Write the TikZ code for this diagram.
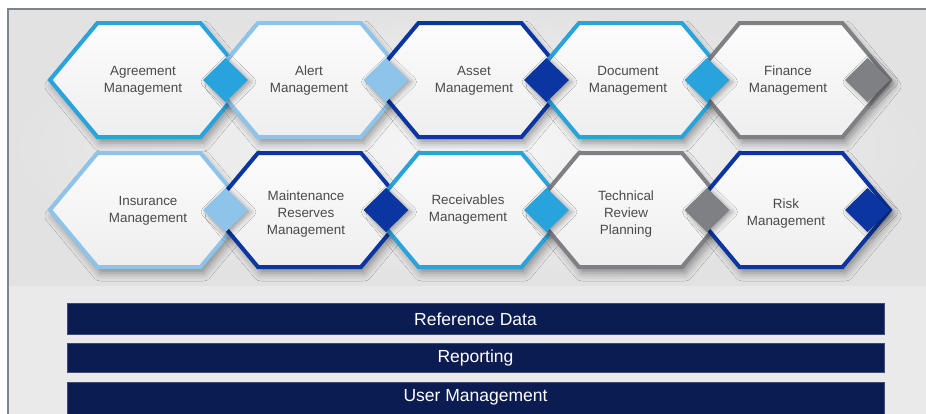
\documentclass[tikz,border=0pt]{standalone}
\usepackage{fontspec}
\setmainfont{Liberation Sans}
\usetikzlibrary{shadows.blur}
\definecolor{cyanB}{HTML}{29A3DC}
\definecolor{lightB}{HTML}{8EC3EA}
\definecolor{darkB}{HTML}{0B35A0}
\definecolor{grayB}{HTML}{7F8084}
\definecolor{navyB}{HTML}{0B1C52}
\definecolor{navyEdge}{HTML}{3B4C78}
\definecolor{frameC}{HTML}{7D848C}
\definecolor{txtC}{HTML}{4A4A4A}
\definecolor{bgLow}{HTML}{EAEAEA}
\definecolor{bgIn}{HTML}{F7F7F7}
\definecolor{bgOut}{HTML}{E2E2E2}
\definecolor{hexTop}{HTML}{FCFCFC}
\definecolor{hexBot}{HTML}{EEEEEE}

\tikzset{
  hexshape/.style={line width=4pt, line join=miter, draw=#1,
    top color=hexTop, bottom color=hexBot,
    blur shadow={shadow xshift=3pt, shadow yshift=-6pt, shadow blur radius=8pt, shadow opacity=40}},
  tipshape/.style={fill=#1, draw=none,
    blur shadow={shadow xshift=3pt, shadow yshift=-2pt, shadow blur radius=5pt, shadow opacity=35}},
  hextext/.style={text=txtC, align=center, font=\fontsize{13.4}{17}\selectfont},
  barbox/.style={fill=navyB, draw=navyEdge, line width=0.8pt},
  bartext/.style={text=white, font=\fontsize{17.5}{20}\selectfont}
}

% hexagon body: center x, center y, colour
\newcommand\hexbody[3]{%
  \draw[hexshape=#3, shift={(#1,#2)}] (-99,0) -- (-51.5,-57) -- (51.5,-57) -- (99,0) -- (51.5,57) -- (-51.5,57) -- cycle;}
% coloured tip: center x, center y, colour
\newcommand\hextip[3]{%
  \fill[tipshape=#3, shift={(#1,#2)}] (54,0) -- (76.5,-22) -- (99,0) -- (76.5,22) -- cycle;}

\begin{document}
\begin{tikzpicture}[x=1pt, y=-1pt]
\useasboundingbox (0,0) rectangle (926,413);
\clip (0,0) rectangle (926,413);
\fill[white] (0,0) rectangle (926,413);
% background
\fill[bgLow] (8,9) rectangle (930,420);
\shade[inner color=bgIn, outer color=bgOut] (8,9) rectangle (930,285);
\draw[frameC, line width=1.3pt] (8,420) -- (8,9) -- (930,9);

% row 1
\hexbody{149}{80}{cyanB}
\hexbody{309.5}{80}{lightB}
\hexbody{470}{80}{darkB}
\hexbody{630.5}{80}{cyanB}
\hexbody{791}{80}{grayB}
\hextip{149}{80}{cyanB}
\hextip{309.5}{80}{lightB}
\hextip{470}{80}{darkB}
\hextip{630.5}{80}{cyanB}
\hextip{791}{80}{grayB}

% row 2
\hexbody{149}{210}{lightB}
\hexbody{309.5}{210}{darkB}
\hexbody{470}{210}{cyanB}
\hexbody{630.5}{210}{grayB}
\hexbody{791}{210}{darkB}
\hextip{149}{210}{lightB}
\hextip{309.5}{210}{darkB}
\hextip{470}{210}{cyanB}
\hextip{630.5}{210}{grayB}
\hextip{791}{210}{darkB}

% labels
\node[hextext] (agr) at (143,81) {Agreement\\Management};
\node[hextext] (alr) at (309,81) {Alert\\Management};
\node[hextext] (ast) at (474,81) {Asset\\Management};
\node[hextext] (doc) at (628,81) {Document\\Management};
\node[hextext] (fin) at (788,81) {Finance\\Management};
\node[hextext] (ins) at (148,211) {Insurance\\Management};
\node[hextext] (mnt) at (306,214) {Maintenance\\Reserves\\Management};
\node[hextext] (rcv) at (468,210) {Receivables\\Management};
\node[hextext] (tec) at (626,214) {Technical\\Review\\Planning};
\node[hextext] (rsk) at (786,214) {Risk\\Management};

% bars
\draw[barbox] (67,303.5) rectangle (884,334);
\draw[barbox] (67,343) rectangle (884,372.5);
\draw[barbox] (67,382) rectangle (884,420);
\node[bartext] (refd) at (475.5,319.5) {Reference Data};
\node[bartext] (rep) at (475.5,358) {Reporting};
\node[bartext] (usr) at (475.5,397.5) {User Management};
\end{tikzpicture}
\end{document}
